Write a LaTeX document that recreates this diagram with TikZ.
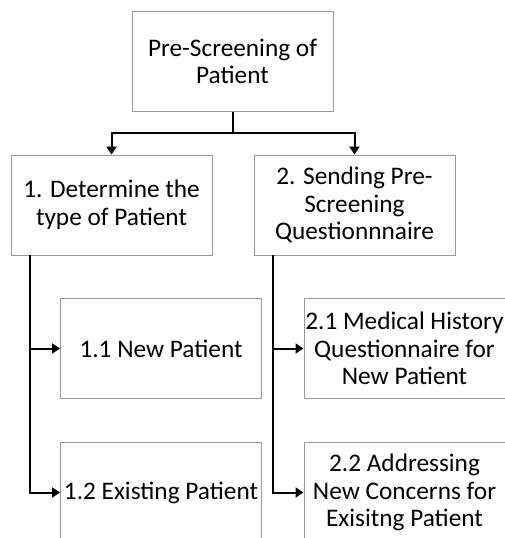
\documentclass[tikz,border=0pt]{standalone}
\usepackage{fontspec}
\setmainfont{Carlito}
\usetikzlibrary{arrows.meta}
\begin{document}
\begin{tikzpicture}[x=1pt,y=-1pt,
  box/.style={draw=black!40, line width=0.9pt, fill=white, minimum width=201pt, minimum height=100pt,
    inner sep=0pt, align=center, font=\fontsize{25.3}{27.5}\selectfont},
  conn/.style={line width=2pt, black},
  arr/.style={conn, -{Triangle[length=8pt,width=10pt]}}]
\useasboundingbox (0,0) rectangle (505,538);
\clip (0,0) rectangle (505,538);
\node[box] (top) at (232.5,61.5) {Pre-Screening of\\Patient};
\node[box] (b1) at (111.5,205) {1. Determine the\\type of Patient};
\node[box] (b2) at (354.5,205) {2. Sending Pre-\\Screening\\Questionnnaire};
\node[box] (b11) at (161,348.5) {1.1 New Patient};
\node[box] (b12) at (161,492.5) {1.2 Existing Patient};
\node[box] (b21) at (404.5,348.5) {2.1 Medical History\\Questionnaire for\\New Patient};
\node[box] (b22) at (404.5,492.5) {2.2 Addressing\\New Concerns for\\Exisitng Patient};
\coordinate (j) at (232.5,133);
\draw[conn] (top.south) -- (j);
\draw[arr] (j) -| (b1.north);
\draw[arr] (j) -| (b2.north);
\coordinate (s1) at ([xshift=19pt]b1.south west);
\coordinate (s2) at ([xshift=19pt]b2.south west);
\draw[arr] (s1) |- (b11.west);
\draw[arr] (s1) |- (b12.west);
\draw[arr] (s2) |- (b21.west);
\draw[arr] (s2) |- (b22.west);
\end{tikzpicture}
\end{document}
